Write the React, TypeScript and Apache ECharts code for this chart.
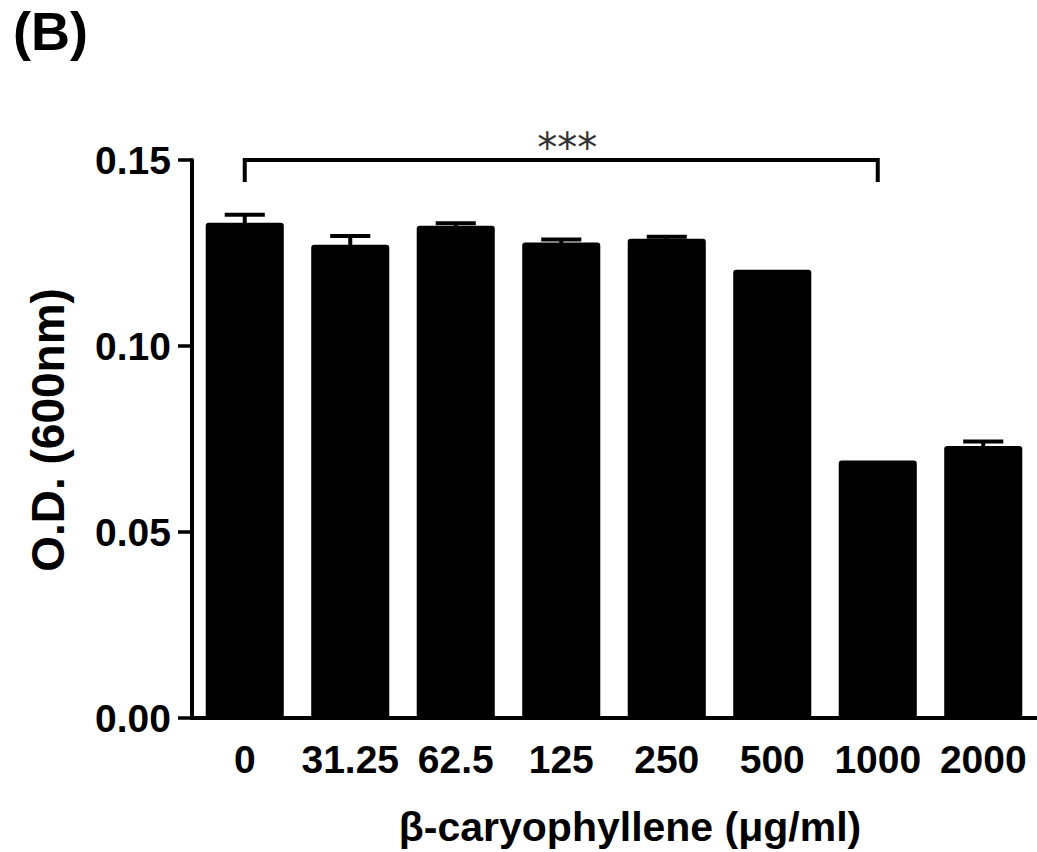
import React, { useEffect, useRef } from "react";
import * as echarts from "echarts";

const categories = ["0", "31.25", "62.5", "125", "250", "500", "1000", "2000"];
const odMeans = [0.1331, 0.1272, 0.1323, 0.1278, 0.1288, 0.1205, 0.0692, 0.0731];
const odUpper = [0.1353, 0.1296, 0.1330, 0.1286, 0.1294, 0.1205, 0.0692, 0.0743];
const yAxisRange = [0, 0.15];
const yInterval = 0.05;
const bracketCats = [0, 6];
const bracketValues = [0.15, 0.1441];
const bracketLabel = "***";

const FONT = "'Liberation Sans', Arial, sans-serif";

export default function App() {
  const ref = useRef<HTMLDivElement>(null);
  useEffect(() => {
    document.body.style.margin = "0";
    const chart = echarts.init(ref.current!, null, { renderer: "svg" });
    const errData = categories.map((_, i) => [i, odMeans[i], odUpper[i]]);
    const bracketData = [[bracketCats[0], bracketCats[1], bracketValues[0], bracketValues[1]]];
    chart.setOption({
      animation: false,
      backgroundColor: "#fff",
      grid: { left: 192, right: 1, top: 160, bottom: 132, containLabel: false },
      graphic: [
        {
          type: "text",
          left: 13,
          top: 4,
          style: { text: "(B)", font: `bold 54px ${FONT}`, fill: "#000" },
        },
      ],
      xAxis: {
        type: "category",
        data: categories,
        name: "β-caryophyllene (μg/ml)",
        nameLocation: "middle",
        nameGap: 88,
        nameTextStyle: {
          fontFamily: FONT,
          fontWeight: "bold",
          fontSize: 41,
          color: "#000",
          padding: [0, 0, 0, 32],
          verticalAlign: "top",
        },
        axisLine: { lineStyle: { color: "#000", width: 4 } },
        axisTick: { alignWithLabel: true, length: 15, lineStyle: { color: "#000", width: 3.5 } },
        axisLabel: { fontFamily: FONT, fontWeight: "bold", fontSize: 39, color: "#000", margin: 22, interval: 0 },
      },
      yAxis: {
        type: "value",
        min: yAxisRange[0],
        max: yAxisRange[1],
        interval: yInterval,
        name: "O.D. (600nm)",
        nameLocation: "middle",
        nameGap: 121,
        nameRotate: 90,
        nameTextStyle: {
          fontFamily: FONT,
          fontWeight: "bold",
          fontSize: 46,
          color: "#000",
          padding: [0, 0, 0, 18],
        },
        splitLine: { show: false },
        axisLine: { show: true, lineStyle: { color: "#000", width: 4 } },
        axisTick: { show: true, length: 14, lineStyle: { color: "#000", width: 3.5 } },
        axisLabel: {
          fontFamily: FONT,
          fontWeight: "bold",
          fontSize: 39,
          color: "#000",
          margin: 21,
          formatter: (v: number) => v.toFixed(2),
        },
      },
      series: [
        {
          type: "bar",
          data: odMeans,
          barWidth: "74%",
          itemStyle: { color: "#000", borderRadius: 3 },
          z: 2,
        },
        {
          type: "custom",
          data: errData,
          z: 3,
          clip: false,
          encode: { x: 0, y: [1, 2] },
          renderItem: (_params: any, api: any) => {
            const i = api.value(0);
            const pMean = api.coord([i, api.value(1)]);
            const pHi = api.coord([i, api.value(2)]);
            if (pMean[1] - pHi[1] < 1) return { type: "group", children: [] };
            const half = api.size([1, 0])[0] * 0.19;
            return {
              type: "group",
              children: [
                {
                  type: "line",
                  shape: { x1: pMean[0], y1: pMean[1] + 2, x2: pHi[0], y2: pHi[1] },
                  style: { stroke: "#000", lineWidth: 4 },
                },
                {
                  type: "line",
                  shape: { x1: pHi[0] - half, y1: pHi[1], x2: pHi[0] + half, y2: pHi[1] },
                  style: { stroke: "#000", lineWidth: 4 },
                },
              ],
            };
          },
        },
        {
          type: "custom",
          data: bracketData,
          z: 4,
          clip: false,
          encode: { x: [0, 1], y: [2, 3] },
          renderItem: (_params: any, api: any) => {
            const a = api.coord([api.value(0), api.value(2)]);
            const b = api.coord([api.value(1), api.value(2)]);
            const a2 = api.coord([api.value(0), api.value(3)]);
            const b2 = api.coord([api.value(1), api.value(3)]);
            return {
              type: "group",
              children: [
                {
                  type: "polyline",
                  shape: { points: [[a2[0], a2[1]], [a[0], a[1]], [b[0], b[1]], [b2[0], b2[1]]] },
                  style: { stroke: "#000", lineWidth: 4, fill: "none" },
                },
                {
                  type: "text",
                  x: (a[0] + b[0]) / 2 + 6,
                  y: a[1] - 12,
                  style: {
                    text: bracketLabel,
                    font: "40px 'DejaVu Sans', sans-serif",
                    fill: "#333",
                    align: "center",
                    verticalAlign: "middle",
                  },
                },
              ],
            };
          },
        },
      ],
    });
    return () => chart.dispose();
  }, []);
  return <div ref={ref} style={{ width: 1037, height: 852 }} />;
}
